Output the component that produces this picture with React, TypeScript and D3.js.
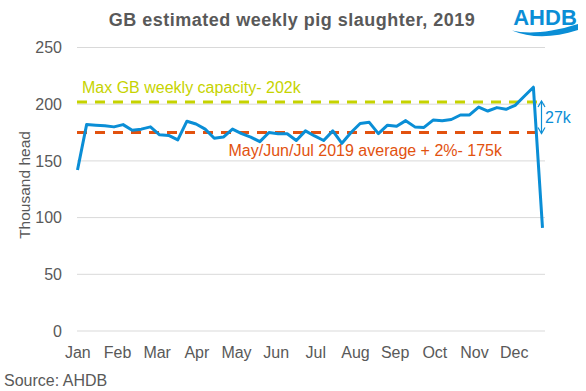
import React, { useEffect, useRef } from 'react';
import * as d3 from 'd3';

const months = ['Jan', 'Feb', 'Mar', 'Apr', 'May', 'Jun', 'Jul', 'Aug', 'Sep', 'Oct', 'Nov', 'Dec'];

// thousand head, weeks 1-52
const weeklySlaughter = [
  142, 182, 181.5, 181, 180, 182, 177, 178, 180, 173, 172.5, 168.5, 185,
  182.5, 178, 170, 171, 178, 174, 171, 167, 175, 174, 174, 168, 176.5,
  172, 168, 176.5, 165.5, 175, 183, 184, 174, 181.5, 180.5, 185.5, 180, 179.5,
  186, 185.5, 186.5, 190.5, 190.5, 197.5, 194, 197, 195.5, 199, 207, 215, 91,
];

const yTicks = [0, 50, 100, 150, 200, 250];

const capacity = 202;
const capacityLabel = 'Max GB weekly capacity- 202k';
const average = 175;
const averageLabel = 'May/Jun/Jul 2019 average + 2%- 175k';
const gapLabel = '27k';

const FONT = '"Liberation Sans", Arial, sans-serif';
const GREY = '#595959';
const BLUE = '#0a8ed6';
const LIME = '#c6d300';
const ORANGE = '#e2520f';

export default function App() {
  const svgRef = useRef<SVGSVGElement>(null);

  useEffect(() => {
    if (!svgRef.current) return;
    const svg = d3.select(svgRef.current);
    svg.selectAll('*').remove();

    const width = 586;
    const height = 391;
    svg.attr('width', width).attr('height', height).style('font-family', FONT);

    const x = d3.scaleLinear().domain([1, weeklySlaughter.length]).range([77.5, 542.5]);
    const xMonth = d3.scaleBand<string>().domain(months).range([58, 534]);
    const y = d3.scaleLinear().domain([0, 250]).range([331, 47.5]);

    // title
    svg.append('text')
      .attr('x', 292)
      .attr('y', 26)
      .attr('text-anchor', 'middle')
      .style('font-size', '18px')
      .style('font-weight', 'bold')
      .style('letter-spacing', '0.5px')
      .style('fill', GREY)
      .text('GB estimated weekly pig slaughter, 2019');

    // logo
    const logo = svg.append('g');
    logo.append('text')
      .attr('x', 545)
      .attr('y', 25)
      .attr('text-anchor', 'middle')
      .style('font-size', '22px')
      .style('font-weight', 'bold')
      .style('fill', BLUE)
      .text('AHDB');
    logo.append('path')
      .attr('d', 'M512,30.5 C526,34 548,33.5 578,24 L578,30 C552,38.5 530,38 512,30.5 Z')
      .attr('fill', BLUE);

    // gridlines + y labels
    const grid = svg.append('g');
    yTicks.forEach(t => {
      grid.append('line')
        .attr('x1', 77).attr('x2', 545)
        .attr('y1', y(t)).attr('y2', y(t))
        .attr('stroke', '#d9d9d9')
        .attr('stroke-width', 1);
      grid.append('text')
        .attr('x', 62)
        .attr('y', y(t))
        .attr('dy', '0.35em')
        .attr('text-anchor', 'end')
        .style('font-size', '16px')
        .style('fill', GREY)
        .text(t);
    });

    // month labels
    svg.append('g')
      .selectAll('text')
      .data(months)
      .enter()
      .append('text')
      .attr('x', d => (xMonth(d) ?? 0) + xMonth.bandwidth() / 2)
      .attr('y', 358)
      .attr('text-anchor', 'middle')
      .style('font-size', '16px')
      .style('fill', GREY)
      .text(d => d);

    // y axis title
    svg.append('text')
      .attr('transform', 'translate(30,185) rotate(-90)')
      .attr('text-anchor', 'middle')
      .style('font-size', '15.5px')
      .style('fill', GREY)
      .text('Thousand head');

    // reference lines
    const refs = [
      { v: capacity, color: LIME },
      { v: average, color: ORANGE },
    ];
    refs.forEach(r => {
      svg.append('line')
        .attr('x1', 77).attr('x2', 543)
        .attr('y1', y(r.v)).attr('y2', y(r.v))
        .attr('stroke', r.color)
        .attr('stroke-width', 3)
        .attr('stroke-dasharray', '10,8');
    });

    svg.append('text')
      .attr('x', 82)
      .attr('y', 93)
      .style('font-size', '16px')
      .style('fill', LIME)
      .text(capacityLabel);

    svg.append('text')
      .attr('x', 502)
      .attr('y', 156)
      .attr('text-anchor', 'end')
      .style('font-size', '16px')
      .style('fill', ORANGE)
      .text(averageLabel);

    // data line
    const line = d3.line<number>()
      .x((_, i) => x(i + 1))
      .y(d => y(d));

    svg.append('path')
      .datum(weeklySlaughter)
      .attr('d', line)
      .attr('fill', 'none')
      .attr('stroke', BLUE)
      .attr('stroke-width', 3)
      .attr('stroke-linejoin', 'round');

    // gap arrow
    const ax = 541.5;
    const top = y(capacity) - 1;
    const bot = y(average) + 1;
    const arrow = svg.append('g').attr('stroke', BLUE).attr('stroke-width', 1.2).attr('fill', 'none');
    arrow.append('line').attr('x1', ax).attr('x2', ax).attr('y1', top).attr('y2', bot);
    arrow.append('path').attr('d', `M${ax - 3.5},${top + 6} L${ax},${top} L${ax + 3.5},${top + 6}`);
    arrow.append('path').attr('d', `M${ax - 3.5},${bot - 6} L${ax},${bot} L${ax + 3.5},${bot - 6}`);

    svg.append('text')
      .attr('x', 545)
      .attr('y', 122.5)
      .style('font-size', '16px')
      .style('fill', BLUE)
      .text(gapLabel);

    // source
    svg.append('text')
      .attr('x', 4)
      .attr('y', 386)
      .style('font-size', '16px')
      .style('fill', GREY)
      .text('Source: AHDB');
  }, []);

  return (
    <svg ref={svgRef} style={{ position: 'absolute', left: 0, top: 0, background: '#fff' }} />
  );
}
